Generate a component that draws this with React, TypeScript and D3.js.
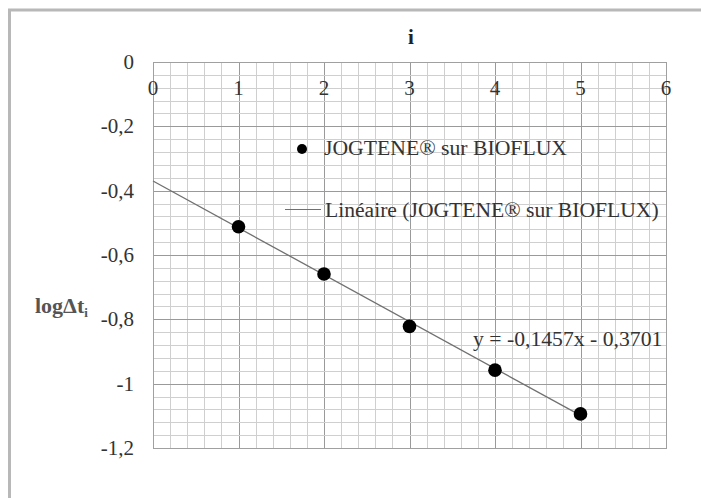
import React from "react";
import * as d3 from "d3";

const xValues = [1, 2, 3, 4, 5];
const yValues = [-0.512, -0.659, -0.822, -0.958, -1.094];
const xTicks = [0, 1, 2, 3, 4, 5, 6];
const yTicks = [0, -0.2, -0.4, -0.6, -0.8, -1, -1.2];
const yTickLabels = ["0", "-0,2", "-0,4", "-0,6", "-0,8", "-1", "-1,2"];
const trendSlope = -0.1457;
const trendIntercept = -0.3701;
const trendRange = [0, 5];
const seriesName = "JOGTENE® sur BIOFLUX";
const trendName = "Linéaire (JOGTENE® sur BIOFLUX)";
const equationText = "y = -0,1457x - 0,3701";

const W = 701;
const H = 498;
const FAMILY = "Liberation Serif";

export default function App() {
  const x = d3.scaleLinear().domain([0, 6]).range([153, 666]);
  const y = d3.scaleLinear().domain([0, -1.2]).range([62, 448]);

  const vMinor = d3.range(0, 6.0001, 0.2);
  const hMinor = d3.range(0, 1.2001, 0.04).map((v) => -v);

  const line = d3
    .line<number>()
    .x((d) => x(d))
    .y((d) => y(trendSlope * d + trendIntercept));

  const crisp = (v: number) => Math.round(v) + 0.5;

  return (
    <svg
      width={W}
      height={H}
      fontFamily={FAMILY}
      style={{ position: "absolute", left: 0, top: 0, display: "block" }}
    >
      <style>{`text { font-family: "Liberation Serif", "Times New Roman", Tinos, serif; }`}</style>
      <rect x={0} y={0} width={W} height={H} fill="#fff" />
      {/* outer frame */}
      <line x1={8} x2={W} y1={10} y2={10} stroke="#b8b8b8" strokeWidth={3} />
      <line x1={9.5} x2={9.5} y1={9} y2={H} stroke="#b8b8b8" strokeWidth={3} />

      {/* grid */}
      <g>
        {vMinor.map((v, i) => {
          const major = Math.abs(v - Math.round(v)) < 1e-6;
          return (
            <line
              key={"v" + i}
              x1={crisp(x(v))}
              x2={crisp(x(v))}
              y1={y(0)}
              y2={y(-1.2)}
              stroke={major ? "#9a9a9a" : "#cfcfcf"}
              strokeWidth={1}
            />
          );
        })}
        {hMinor.map((v, i) => {
          const major = i % 5 === 0;
          return (
            <line
              key={"h" + i}
              x1={x(0)}
              x2={x(6)}
              y1={crisp(y(v))}
              y2={crisp(y(v))}
              stroke={major ? "#9a9a9a" : "#cfcfcf"}
              strokeWidth={1}
            />
          );
        })}
        <rect
          x={crisp(x(0))}
          y={crisp(y(0))}
          width={Math.round(x(6)) - Math.round(x(0))}
          height={Math.round(y(-1.2)) - Math.round(y(0))}
          fill="none"
          stroke="#a0a0a0"
          strokeWidth={1}
        />
      </g>

      {/* x tick labels (inside top) */}
      {xTicks.map((t) => (
        <text key={"xt" + t} x={x(t)} y={95} textAnchor="middle" fontSize={21} fill="#333" fontFamily={FAMILY}>
          {t}
        </text>
      ))}

      {/* y tick labels */}
      {yTicks.map((t, i) => (
        <text key={"yt" + i} x={134} y={y(t) + 7} textAnchor="end" fontSize={21} fill="#333" fontFamily={FAMILY}>
          {yTickLabels[i]}
        </text>
      ))}

      {/* title */}
      <text x={411} y={44} textAnchor="middle" fontSize={21} fontWeight="bold" fill="#222" fontFamily={FAMILY}>
        i
      </text>

      {/* y label */}
      <text x={35} y={313} fontSize={22} fontWeight="bold" fill="#555" fontFamily={FAMILY}>
        logΔt
        <tspan fontSize={13} dy={4}>
          i
        </tspan>
      </text>

      {/* trend line */}
      <path d={line(trendRange) || ""} fill="none" stroke="#707070" strokeWidth={1.3} />

      {/* points */}
      {xValues.map((xv, i) => (
        <circle key={"p" + i} cx={x(xv)} cy={y(yValues[i])} r={6.8} fill="#000" />
      ))}

      {/* legend */}
      <circle cx={302} cy={149} r={5} fill="#000" />
      <text x={324} y={155} fontSize={21.7} fill="#333" fontFamily={FAMILY}>
        {seriesName}
      </text>
      <line x1={285} x2={321} y1={209.5} y2={209.5} stroke="#707070" strokeWidth={1} />
      <text x={325} y={217} fontSize={21.6} fill="#333" fontFamily={FAMILY}>
        {trendName}
      </text>

      {/* equation */}
      <text x={473} y={346} fontSize={21.7} fill="#333" fontFamily={FAMILY}>
        {equationText}
      </text>
    </svg>
  );
}
